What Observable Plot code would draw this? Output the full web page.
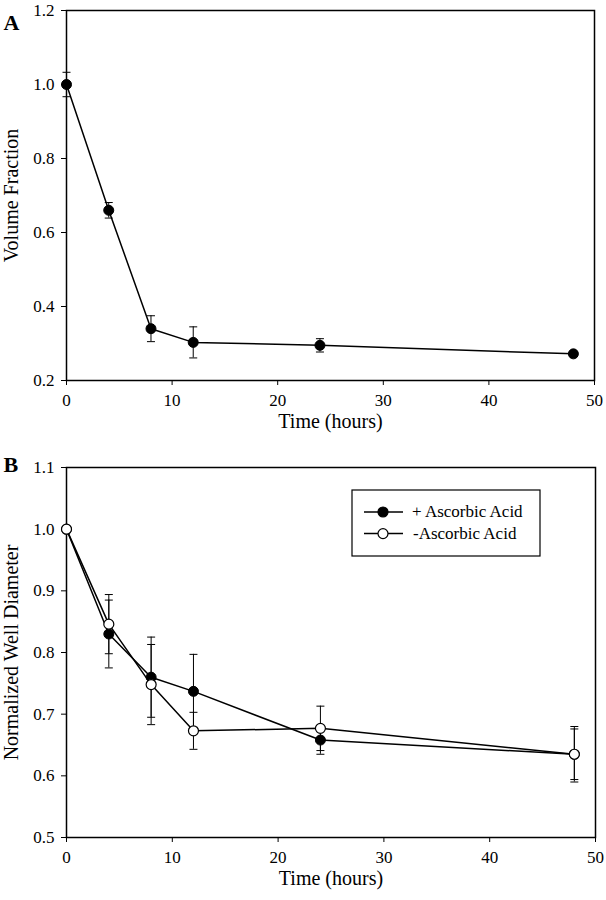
<!DOCTYPE html>
<html>
<head>
<meta charset="utf-8">
<script src="https://cdn.jsdelivr.net/npm/d3@7"></script>
<script src="https://cdn.jsdelivr.net/npm/@observablehq/plot@0.6"></script>
<style>
  html, body { margin: 0; padding: 0; background: #fff; }
  #wrap { position: relative; width: 606px; height: 900px; font-family: "Liberation Serif", "Times New Roman", serif; }
  #panelA { position: absolute; left: 0; top: 0; }
  #panelB { position: absolute; left: 0; top: 440px; }
  #legend { position: absolute; left: 351px; top: 489px; }
  svg { overflow: visible; }
  svg text { font-family: "Liberation Serif", "Times New Roman", serif; }
</style>
</head>
<body>
<div id="wrap">
  <div id="panelA"></div>
  <div id="panelB"></div>
  <svg id="legend" width="192" height="70"></svg>
</div>
<script>
// ---- data ----
const timeHours = [0, 4, 8, 12, 24, 48];
const volumeFraction = [1.0, 0.66, 0.34, 0.303, 0.295, 0.272];
const volumeFractionErr = [0.033, 0.021, 0.035, 0.042, 0.018, 0.005];

const plusAscorbic = [1.0, 0.830, 0.760, 0.737, 0.658, 0.635];
const plusAscorbicErr = [0, 0.055, 0.065, 0.060, 0.023, 0.045];
const minusAscorbic = [1.0, 0.846, 0.748, 0.673, 0.677, 0.635];
const minusAscorbicErr = [0, 0.048, 0.065, 0.030, 0.036, 0.041];

const seriesNames = ["+ Ascorbic Acid", "-Ascorbic Acid"];
const xTicks = [0, 10, 20, 30, 40, 50];
const yTicksA = [0.2, 0.4, 0.6, 0.8, 1.0, 1.2];
const yTicksB = [0.5, 0.6, 0.7, 0.8, 0.9, 1.0, 1.1];

const FONT = "Liberation Serif";

const rows = (vals, errs) => timeHours.map((t, i) => ({t, v: vals[i], e: errs[i]}));
const rowsA = rows(volumeFraction, volumeFractionErr);
const rowsPlus = rows(plusAscorbic, plusAscorbicErr);
const rowsMinus = rows(minusAscorbic, minusAscorbicErr);

// horizontal cap symbol for error bars
const capSymbol = {
  draw(ctx, size) {
    const r = Math.sqrt(size / Math.PI);
    ctx.moveTo(-r, 0);
    ctx.lineTo(r, 0);
  }
};

function errorMarks(data) {
  const d = data.filter(r => r.e > 0);
  return [
    Plot.ruleX(d, {x: "t", y1: r => r.v - r.e, y2: r => r.v + r.e, stroke: "black", strokeWidth: 1}),
    Plot.dot(d, {x: "t", y: r => r.v + r.e, symbol: capSymbol, r: 4, fill: "none", stroke: "black", strokeWidth: 1}),
    Plot.dot(d, {x: "t", y: r => r.v - r.e, symbol: capSymbol, r: 4, fill: "none", stroke: "black", strokeWidth: 1})
  ];
}

function commonAxes(yTicks, yLabel, letter, letterDy) {
  return [
    Plot.axisX({ticks: xTicks, tickSize: 5, tickPadding: 8, tickFormat: d3.format("d"), label: null, fontSize: 17, fontFamily: FONT, fill: "black"}),
    Plot.axisY({ticks: yTicks, tickSize: 5, tickPadding: 7, tickFormat: d3.format(".1f"), label: null, fontSize: 17, fontFamily: FONT, fill: "black"}),
    Plot.frame({stroke: "black", strokeWidth: 1.5}),
    Plot.text([yLabel], {frameAnchor: "left", text: d => d, textAnchor: "middle", rotate: -90, dx: -55, fontSize: 20, fill: "black", fontFamily: FONT}),
    Plot.text(["Time (hours)"], {frameAnchor: "bottom", text: d => d, textAnchor: "middle", dy: 47, fontSize: 20, fill: "black", fontFamily: FONT}),
    Plot.text([letter], {frameAnchor: "top-left", text: d => d, textAnchor: "start", dx: -63, dy: letterDy, fontSize: 22, fontWeight: "bold", fill: "black", fontFamily: FONT})
  ];
}

// ---- Panel A ----
const plotA = Plot.plot({
  width: 606,
  height: 440,
  marginLeft: 66,
  marginRight: 12,
  marginTop: 10,
  marginBottom: 60,
  style: {fontFamily: FONT, fontSize: "17px", color: "black", background: "white"},
  x: {domain: [0, 50]},
  y: {domain: [0.2, 1.2]},
  marks: [
    ...commonAxes(yTicksA, "Volume Fraction", "A", 4),
    ...errorMarks(rowsA),
    Plot.line(rowsA, {x: "t", y: "v", stroke: "black", strokeWidth: 1.5}),
    Plot.dot(rowsA, {x: "t", y: "v", r: 5, fill: "black", stroke: "black", strokeWidth: 1})
  ]
});
document.getElementById("panelA").appendChild(plotA);

// ---- Panel B ----
const plotB = Plot.plot({
  width: 606,
  height: 460,
  marginLeft: 66,
  marginRight: 11,
  marginTop: 27,
  marginBottom: 63,
  style: {fontFamily: FONT, fontSize: "17px", color: "black", background: "white"},
  x: {domain: [0, 50]},
  y: {domain: [0.5, 1.1]},
  marks: [
    ...commonAxes(yTicksB, "Normalized Well Diameter", "B", -11),
    ...errorMarks(rowsPlus),
    Plot.line(rowsPlus, {x: "t", y: "v", stroke: "black", strokeWidth: 1.5}),
    Plot.dot(rowsPlus, {x: "t", y: "v", r: 5, fill: "black", stroke: "black", strokeWidth: 1}),
    ...errorMarks(rowsMinus),
    Plot.line(rowsMinus, {x: "t", y: "v", stroke: "black", strokeWidth: 1.5}),
    Plot.dot(rowsMinus, {x: "t", y: "v", r: 5, fill: "white", stroke: "black", strokeWidth: 1.2})
  ]
});
document.getElementById("panelB").appendChild(plotB);

// ---- Legend ----
const legend = d3.select("#legend");
legend.append("rect").attr("x", 1).attr("y", 1).attr("width", 188).attr("height", 66)
  .attr("fill", "white").attr("stroke", "black").attr("stroke-width", 1.2);
const fills = ["black", "white"];
seriesNames.forEach((name, i) => {
  const y = 23 + i * 21.6;
  legend.append("line").attr("x1", 13).attr("x2", 52).attr("y1", y).attr("y2", y)
    .attr("stroke", "black").attr("stroke-width", 1.5);
  legend.append("circle").attr("cx", 32).attr("cy", y).attr("r", 5)
    .attr("fill", fills[i]).attr("stroke", "black").attr("stroke-width", 1.2);
  legend.append("text").attr("x", i === 0 ? 61 : 62).attr("y", y).attr("dy", "0.32em")
    .attr("font-family", FONT).attr("font-size", 17).attr("fill", "black").text(name);
});
</script>
</body>
</html>
